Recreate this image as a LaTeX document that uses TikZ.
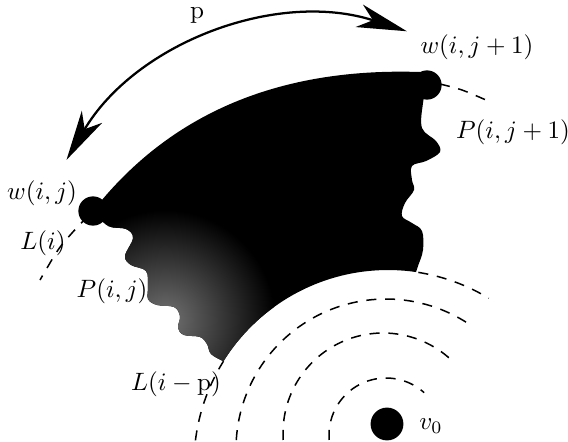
\documentclass[tikz,border=0pt]{standalone}
\usepackage{amsmath,amssymb}
\usetikzlibrary{arrows.meta}

\tikzset{
  guide/.style={line width=0.6pt, dash pattern=on 4pt off 3.5pt},
  vertex/.style={circle, fill=black, inner sep=0pt, minimum size=#1},
  vertex/.default=4.1mm,
  bighead/.tip={Stealth[length=7mm, width=3.3mm, inset=2mm]}
}

% outline of the region between L(i) and L(i-p)
\def\region{(93,211) .. controls (180,100) and (300,68) .. (420,72)
    -- plot[smooth, tension=0.6] coordinates {(427,85) (423,103) (422,128) (436,141) (440,152) (426,161) (412,166) (412,180) (414,190) (405,203) (402,216) (412,223) (422,231) (423,250) (418,266) (416,272)}
    -- plot[domain=278.3:212, samples=40] ({388+194*cos(\x)}, {464+194*sin(\x)})
    -- plot[smooth, tension=0.6] coordinates {(223,361) (211,354) (207,344) (200,337) (184,335) (178,328) (180,316) (174,307) (157,305) (148,299) (148,286) (146,271) (131,265) (125,256) (133,238) (126,229) (108,226) (93,211)}
    -- cycle}

\begin{document}
\begin{tikzpicture}[x=0.014cm, y=-0.014cm]
  \useasboundingbox (0,0) rectangle (568,442);
  \begin{scope}
    \clip \region;
    \fill[black] (0,0) rectangle (568,442);
    \shade[inner color=black!55, outer color=black] (165,320) circle (110);
  \end{scope}
  % L(i)
  \draw[guide] plot[smooth] coordinates {(88,216) (72,233) (58,250) (40,280)};
  \draw[guide] plot[smooth] coordinates {(440,84) (462,90) (486,100)};
  % L(i-p)
  \draw[guide] plot[domain=187:212, samples=20] ({388+194*cos(\x)}, {464+194*sin(\x)});
  \draw[guide] plot[domain=279:301.3, samples=20] ({388+194*cos(\x)}, {464+194*sin(\x)});
  % rings round v0
  \draw[guide] plot[domain=183.4:303.6, samples=60] ({386+150*cos(\x)}, {449+150*sin(\x)});
  \draw[guide] plot[domain=176:312.6, samples=60] ({383+100*cos(\x)}, {433+100*sin(\x)});
  \draw[guide] plot[domain=175:312, samples=40] ({386+57*cos(\x)}, {435+57*sin(\x)});
  % vertices
  \node[vertex] (wij) at (93,211) {};
  \node[vertex] (wij1) at (427,85) {};
  \node[vertex=4.6mm] (v0) at (387,424) {};
  % arrow p
  \coordinate (pl) at (66.5,159.9);
  \coordinate (pr) at (406.9,31.2);
  \draw[line width=0.9pt, {bighead}-{bighead}] (pl) arc[start angle=210.6, end angle=288, radius=291];
  % labels
  \node (plabel) at (197,15) {p};
  \node (lwij) at (42,193) {$w(i,j)$};
  \node (lwij1) at (477,47) {$w(i,j+1)$};
  \node (lPij1) at (513,132) {$P(i,j+1)$};
  \node (lPij) at (112,291) {$P(i,j)$};
  \node (lLi) at (43,243) {$L(i)$};
  \node (lLip) at (176,384) {$L(i-\mathrm{p})$};
  \node (lv0) at (431,426) {$v_0$};
\end{tikzpicture}
\end{document}
